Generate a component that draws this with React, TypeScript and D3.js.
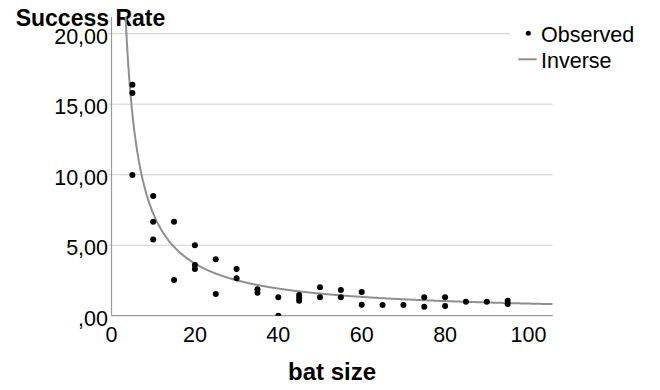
import React from "react";
import * as d3 from "d3";

// observed points (bat size, success rate)
const batSize = [
  5, 5, 5,
  10, 10, 10,
  15, 15,
  20, 20, 20,
  25, 25,
  30, 30,
  35, 35,
  40, 40,
  45, 45, 45,
  50, 50,
  55, 55,
  60, 60,
  65, 70,
  75, 75,
  80, 80,
  85, 90,
  95, 95,
];
const successRate = [
  16.38, 15.8, 9.98,
  8.49, 6.67, 5.4,
  6.67, 2.53,
  5.0, 3.6, 3.31,
  4.0, 1.54,
  3.31, 2.65,
  1.87, 1.63,
  1.3, 0.0,
  1.47, 1.25, 1.06,
  2.01, 1.3,
  1.82, 1.3,
  1.68, 0.78,
  0.76, 0.76,
  1.3, 0.64,
  1.3, 0.69,
  0.99, 0.99,
  1.06, 0.83,
];

// inverse model: y = b0 + b1 / x
const inverseB0 = 0.15;
const inverseB1 = 71;

const yTicks = [0, 5, 10, 15, 20];
const xTicks = [0, 20, 40, 60, 80, 100];

const W = 660;
const H = 390;
const font = "'Liberation Sans', Arial, sans-serif";

const App: React.FC = () => {
  const left = 111.5;
  const right = 552.7;
  const bottom = 315.7;
  const top = 17;

  const x = d3.scaleLinear().domain([0, 105.8]).range([left, right]);
  const y = d3.scaleLinear().domain([0, 20]).range([bottom, 33.7]);

  const fmt = (d: number) => (d === 0 ? ",00" : d.toFixed(2).replace(".", ","));

  // sample the fitted curve
  const curveX = d3.range(3.2, 105.8, 0.1).concat([105.8]);
  const line = d3
    .line<number>()
    .x((d) => x(d))
    .y((d) => y(inverseB0 + inverseB1 / d))
    .curve(d3.curveLinear);

  const points = batSize.map((b, i) => ({ b, s: successRate[i] }));

  return (
    <svg
      width={W}
      height={H}
      style={{ position: "absolute", left: 0, top: 0, background: "#fff" }}
      fontFamily={font}
    >
      <defs>
        <clipPath id="plot">
          <rect x={left} y={top} width={right - left} height={bottom - top} />
        </clipPath>
      </defs>
      <rect width={W} height={H} fill="#fff" />

      {/* grid */}
      {yTicks
        .filter((t) => t > 0)
        .map((t) => (
          <line key={t} x1={left - 3} x2={right} y1={y(t)} y2={y(t)} stroke="#cfcfcf" strokeWidth={1} />
        ))}

      {/* axes */}
      <line x1={left} x2={left} y1={top} y2={bottom} stroke="#9a9a9a" strokeWidth={1.2} />
      <line x1={left} x2={right} y1={bottom} y2={bottom} stroke="#9a9a9a" strokeWidth={1.2} />

      {/* y tick labels */}
      {yTicks.map((t) => (
        <text key={t} x={108} y={y(t) + 9.8} textAnchor="end" fontSize={21.5} fill="#000">
          {fmt(t)}
        </text>
      ))}

      {/* x tick labels */}
      {xTicks.map((t) => (
        <text key={t} x={x(t)} y={bottom + 26} textAnchor="middle" fontSize={21.5} fill="#000">
          {t}
        </text>
      ))}

      <text x={15.7} y={26} fontSize={23} fontWeight="bold" fill="#000">
        Success Rate
      </text>

      <g clipPath="url(#plot)">
        <path d={line(curveX) || ""} fill="none" stroke="#8f8f8f" strokeWidth={2} />
        {points.map((p, i) => (
          <circle key={i} cx={x(p.b)} cy={y(p.s)} r={3} fill="#000" />
        ))}
      </g>

      <text x={(left + right) / 2} y={380} textAnchor="middle" fontSize={24} fontWeight="bold" fill="#000">
        bat size
      </text>

      {/* legend */}
      <rect x={510} y={14} width={150} height={62} fill="#fff" />
      <circle cx={528.3} cy={33.3} r={2.5} fill="#000" />
      <text x={541} y={41.7} fontSize={21.5} fill="#000">
        Observed
      </text>
      <line x1={518.3} x2={536.7} y1={59.3} y2={59.3} stroke="#8f8f8f" strokeWidth={2} />
      <text x={541} y={68.3} fontSize={21.5} fill="#000">
        Inverse
      </text>
    </svg>
  );
};

export default App;
